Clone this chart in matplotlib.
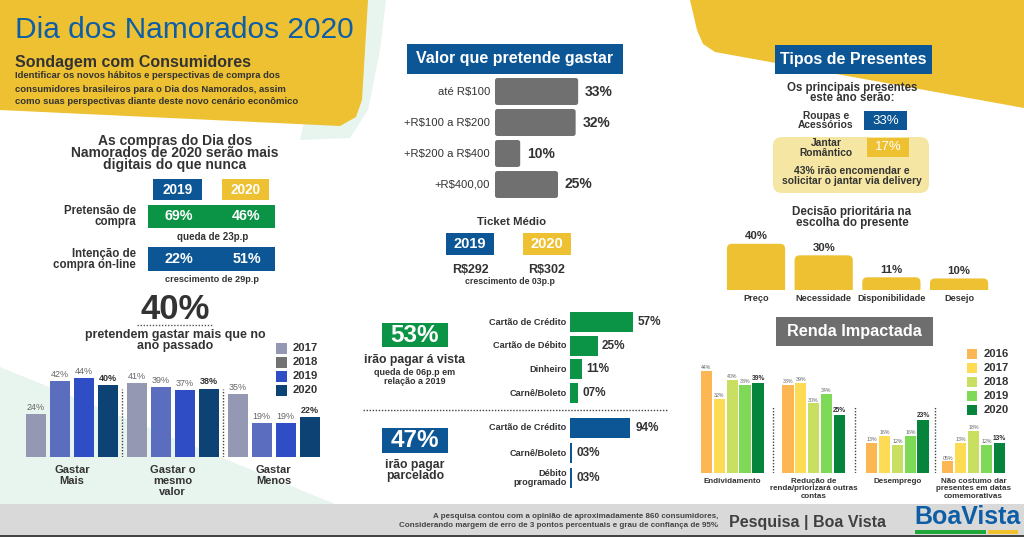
import matplotlib
matplotlib.use("Agg")
import matplotlib.pyplot as plt
from matplotlib.patches import Rectangle, Polygon, FancyBboxPatch

plt.rcParams["font.family"] = ["Liberation Sans", "DejaVu Sans"]
plt.rcParams["text.parse_math"] = False

# ---------------------------------------------------------------------
# DATA
# ---------------------------------------------------------------------
DIGITAL_YEARS = ["2019", "2020"]
PRETENSAO = [69, 46]
ONLINE = [22, 51]

GASTAR_CATEGORIES = ["Gastar\nMais", "Gastar o\nmesmo\nvalor", "Gastar\nMenos"]
GASTAR_YEARS = ["2017", "2018", "2019", "2020"]
GASTAR_2017 = [24, 41, 35]
GASTAR_2018 = [42, 39, 19]
GASTAR_2019 = [44, 37, 19]
GASTAR_2020 = [40, 38, 22]

VALOR_FAIXAS = ["até R$100", "+R$100 a R$200", "+R$200 a R$400", "+R$400,00"]
VALOR_PCT = [33, 32, 10, 25]

TICKET_YEARS = ["2019", "2020"]
TICKET_VALUES = ["R$292", "R$302"]

VISTA_TOTAL = 53
VISTA_MEIOS = ["Cartão de Crédito", "Cartão de Débito", "Dinheiro", "Carnê/Boleto"]
VISTA_PCT = [57, 25, 11, 7]

PARC_TOTAL = 47
PARC_MEIOS = ["Cartão de Crédito", "Carnê/Boleto", "Débito\nprogramado"]
PARC_PCT = [94, 3, 3]

PRESENTES = ["Roupas e\nAcessórios", "Jantar\nRomântico"]
PRESENTES_PCT = [33, 17]
DELIVERY_PCT = 43

DECISAO_LABELS = ["Preço", "Necessidade", "Disponibilidade", "Desejo"]
DECISAO_PCT = [40, 30, 11, 10]

RENDA_CATEGORIES = ["Endividamento", "Redução de\nrenda/priorizará outras\ncontas",
                    "Desemprego", "Não costumo dar\npresentes em datas\ncomemorativas"]
RENDA_YEARS = ["2016", "2017", "2018", "2019", "2020"]
RENDA_2016 = [44, 38, 13, 5]
RENDA_2017 = [32, 39, 16, 13]
RENDA_2018 = [40, 30, 12, 18]
RENDA_2019 = [38, 34, 16, 12]
RENDA_2020 = [39, 25, 23, 13]

# ---------------------------------------------------------------------
# STYLE
# ---------------------------------------------------------------------
W, H = 1024, 537
YELLOW = "#edc132"
BLUE = "#0c5695"
TITLE_BLUE = "#0d5ea6"
GREEN = "#0b9446"
DARK = "#333333"
MID = "#666666"
BAR_GRAY = "#707070"
MINT = "#e8f4ee"
PALE_YELLOW = "#f6e6a3"

GASTAR_COLORS = ["#9598b2", "#5b6dbf", "#2f4ec6", "#0c4274"]
GASTAR_LEGEND = ["#9598b2", "#727272", "#2f4ec6", "#0c4274"]
RENDA_COLORS = ["#fdb654", "#fedb55", "#c9df62", "#7ed957", "#07843c"]

fig = plt.figure(figsize=(W / 100, H / 100), dpi=100)
fig.patch.set_facecolor("white")
bg = fig.add_axes([0, 0, 1, 1])
bg.set_xlim(0, W)
bg.set_ylim(H, 0)
bg.set_axis_off()


def px_axes(x0, y0, x1, y1):
    ax = fig.add_axes([x0 / W, 1 - y1 / H, (x1 - x0) / W, (y1 - y0) / H])
    ax.set_axis_off()
    return ax


def txt(x, y, s, size, weight="bold", color=DARK, ha="center", va="center"):
    bg.text(x, y, s, fontsize=size, fontweight=weight, color=color, ha=ha, va=va)


def mtxt(x, yc, s, size, pitch, weight="bold", color=DARK, ha="center"):
    lines = s.split("\n")
    n = len(lines)
    for i, line in enumerate(lines):
        txt(x, yc + (i - (n - 1) / 2) * pitch, line, size, weight, color, ha)


def box(x0, y0, x1, y1, color, s=None, size=10, tcolor="white", weight="bold"):
    bg.add_patch(Rectangle((x0, y0), x1 - x0, y1 - y0, facecolor=color, edgecolor="none"))
    if s is not None:
        txt((x0 + x1) / 2, (y0 + y1) / 2, s, size, weight, tcolor)


def rbar(ax, x0, y0, w, h, radius_px, color):
    bb = ax.get_position()
    xl, yl = ax.get_xlim(), ax.get_ylim()
    ppx = bb.width * W / abs(xl[1] - xl[0])
    ppy = bb.height * H / abs(yl[1] - yl[0])
    ax.add_patch(FancyBboxPatch((x0, y0), w, h,
                                boxstyle=f"round,pad=0,rounding_size={radius_px / ppx}",
                                mutation_aspect=ppx / ppy, facecolor=color, edgecolor="none"))


def lab(ax, s, xy, dx, dy, size, ha="center", va="center", weight="bold", color=DARK, ls=1.2):
    ax.annotate(s, xy=xy, xytext=(dx, dy), textcoords="offset points", ha=ha, va=va,
                fontsize=size, fontweight=weight, color=color, linespacing=ls,
                annotation_clip=False)


# ---------------------------------------------------------------------
# BACKGROUND SHAPES
# ---------------------------------------------------------------------
bg.add_patch(Polygon([(0, 367), (0, 504), (335, 504)], closed=True, fc=MINT, ec="none"))
bg.add_patch(Polygon([(330, 0), (386, 0), (380, 50), (368, 110), (350, 138), (300, 140)],
                     closed=True, fc=MINT, ec="none"))
bg.add_patch(Polygon([(0, 0), (368, 0), (362, 100), (356, 117), (340, 126), (0, 110)],
                     closed=True, fc=YELLOW, ec="none"))
bg.add_patch(Polygon([(690, 0), (1024, 0), (1024, 108), (715, 52), (703, 44), (697, 30)],
                     closed=True, fc=YELLOW, ec="none"))

# ---------------------------------------------------------------------
# HEADER
# ---------------------------------------------------------------------
txt(15, 30, "Dia dos Namorados 2020", 21.5, weight="normal", color=TITLE_BLUE, ha="left")
txt(15, 62, "Sondagem com Consumidores", 11.5, ha="left")
mtxt(15, 89, "Identificar os novos hábitos e perspectivas de compra dos\n"
     "consumidores brasileiros para o Dia dos Namorados, assim\n"
     "como suas perspectivas diante deste novo cenário econômico", 6.8, 13, ha="left")

# ---------------------------------------------------------------------
# LEFT: DIGITAL
# ---------------------------------------------------------------------
mtxt(175, 153, "As compras do Dia dos\nNamorados de 2020 serão mais\ndigitais do que nunca", 10, 12.3)
box(153, 179, 202, 200, BLUE, DIGITAL_YEARS[0], 9.8)
box(222, 179, 269, 200, YELLOW, DIGITAL_YEARS[1], 9.8)

box(148, 205, 275, 228, GREEN)
txt(178.5, 216.5, f"{PRETENSAO[0]}%", 10.3, color="white")
txt(246.5, 216.5, f"{PRETENSAO[1]}%", 10.3, color="white")
mtxt(136, 217, "Pretensão de\ncompra", 8.3, 11, ha="right")
txt(213, 237.5, f"queda de {PRETENSAO[0] - PRETENSAO[1]}p.p", 7)

box(148, 247, 275, 271, BLUE)
txt(178.5, 259, f"{ONLINE[0]}%", 10.3, color="white")
txt(246.5, 259, f"{ONLINE[1]}%", 10.3, color="white")
mtxt(136, 259.5, "Intenção de\ncompra on-line", 8.3, 11, ha="right")
txt(212, 279, f"crescimento de {ONLINE[1] - ONLINE[0]}p.p", 6.6)

txt(175, 309.5, f"{GASTAR_2020[0]}%", 25)
bg.plot([137, 212], [324.5, 324.5], ls=(0, (1, 1.2)), color="#555555", lw=1)
mtxt(175, 340.5, "pretendem gastar mais que no\nano passado", 8.9, 11)

# gastar bars
ax = px_axes(22, 367, 323, 457)
ax.set_xlim((22 - 36) / 24, (323 - 36) / 24)
ax.set_ylim(0, 50)
GROUP_STEP = 4.2
series = [GASTAR_2017, GASTAR_2018, GASTAR_2019, GASTAR_2020]
for i, vals in enumerate(series):
    xs = [g * GROUP_STEP + i for g in range(len(vals))]
    ax.bar(xs, vals, width=0.83, color=GASTAR_COLORS[i])
    last = i == len(series) - 1
    for x, v in zip(xs, vals):
        lab(ax, f"{v:02d}%", (x, v), 0, 1.6, 6.5, va="bottom",
            weight="bold" if last else "normal", color=DARK if last else MID)
ax.vlines([(g + 1) * GROUP_STEP - 0.6 for g in range(len(GASTAR_CATEGORIES) - 1)], 0, 38,
          colors="#444444", linestyles=(0, (1, 1.2)), lw=1)
for g, cat in enumerate(GASTAR_CATEGORIES):
    lab(ax, cat, (g * GROUP_STEP + 1.5, 0), 0, -5.6, 8, va="top", ls=1.15)

for i, year in enumerate(GASTAR_YEARS):
    yc = 348 + i * 14
    bg.add_patch(Rectangle((276, yc - 5.5), 11, 11, fc=GASTAR_LEGEND[i], ec="none"))
    txt(293, yc, year, 8.1, ha="left")

# ---------------------------------------------------------------------
# CENTER: VALOR
# ---------------------------------------------------------------------
box(407, 44, 623, 74, BLUE, "Valor que pretende gastar", 11.5)
ax = px_axes(495, 76, 620, 200)
ax.set_xlim(0, 125 / 2.52)
ax.set_ylim(len(VALOR_PCT) - 0.5, -0.5)
for i, (name, v) in enumerate(zip(VALOR_FAIXAS, VALOR_PCT)):
    rbar(ax, 0, i - 0.435, v, 0.87, 2.5, BAR_GRAY)
    lab(ax, name, (0, i), -3.6, 0, 8.1, ha="right", weight="normal")
    lab(ax, f"{v}%", (v, i), 5, 0, 10, ha="left")

txt(512, 222, "Ticket Médio", 8.2)
box(446, 233, 494, 255, BLUE, TICKET_YEARS[0], 10.5)
box(523, 233, 571, 255, YELLOW, TICKET_YEARS[1], 10.5)
txt(470.5, 270, TICKET_VALUES[0], 9)
txt(546.5, 270, TICKET_VALUES[1], 9)
txt(510, 281, "crescimento de 03p.p", 6.3)

# ---------------------------------------------------------------------
# CENTER: PAGAMENTO
# ---------------------------------------------------------------------
box(382, 323, 448, 347, GREEN, f"{VISTA_TOTAL}%", 17.5)
txt(415, 360, "irão pagar á vista", 8.8)
mtxt(415, 377, "queda de 06p.p em\nrelação a 2019", 6.5, 9.3)

ax = px_axes(570, 310.2, 668, 404.9)
ax.set_xlim(0, 98 / 1.1)
ax.set_ylim(len(VISTA_PCT) - 0.5, -0.5)
ax.barh(range(len(VISTA_PCT)), VISTA_PCT, height=0.84, color=GREEN)
for i, (name, v) in enumerate(zip(VISTA_MEIOS, VISTA_PCT)):
    lab(ax, name, (0, i), -2.4, 0, 6.6, ha="right")
    lab(ax, f"{v:02d}%", (v, i), 3.2, 0, 8.5, ha="left")

bg.plot([363, 668], [410, 410], ls=(0, (1, 1.2)), color="#444444", lw=1)

box(382, 428, 448, 453, BLUE, f"{PARC_TOTAL}%", 17.5)
mtxt(415, 470.5, "irão pagar\nparcelado", 8.8, 10.8)

ax = px_axes(570, 415.5, 668, 490.5)
ax.set_xlim(0, 98 / 0.64)
ax.set_ylim(len(PARC_PCT) - 0.5, -0.5)
ax.barh(range(len(PARC_PCT)), PARC_PCT, height=0.8, color=BLUE)
for i, (name, v) in enumerate(zip(PARC_MEIOS, PARC_PCT)):
    lab(ax, name, (0, i), -2.4, 0, 6.6, ha="right", ls=1.0)
    lab(ax, f"{v:02d}%", (v, i), 3.6, 0, 8.5, ha="left")

# ---------------------------------------------------------------------
# RIGHT: PRESENTES
# ---------------------------------------------------------------------
box(775, 45, 932, 74, BLUE, "Tipos de Presentes", 11.5)
mtxt(852, 93, "Os principais presentes\neste ano serão:", 8.3, 10.6)
mtxt(826, 120.5, PRESENTES[0], 7.4, 8.6)
box(864, 111, 907, 130, BLUE, f"{PRESENTES_PCT[0]}%", 9.5, weight="normal")
bg.add_patch(FancyBboxPatch((773, 137), 156, 56, boxstyle="round,pad=0,rounding_size=9",
                            fc=PALE_YELLOW, ec="none"))
mtxt(826, 148, PRESENTES[1], 7.4, 9.5)
box(867, 138, 909, 157, YELLOW, f"{PRESENTES_PCT[1]}%", 9.5, weight="normal")
mtxt(852, 176, f"{DELIVERY_PCT}% irão encomendar e\nsolicitar o jantar via delivery", 7.4, 10.3)

mtxt(852, 217.5, "Decisão prioritária na\nescolha do presente", 8.4, 11.5)
ax = px_axes(718.8, 238, 996.3, 290)
ax.set_xlim(-0.55, 3.55)
ax.set_ylim(0, 45)
for i, (name, v) in enumerate(zip(DECISAO_LABELS, DECISAO_PCT)):
    rbar(ax, i - 0.43, -6, 0.86, v + 6, 5, YELLOW)
    lab(ax, f"{v}%", (i, v), 0, 1.8, 8.2, va="bottom")
    lab(ax, name, (i, 0), 0, -2.8, 6.6, va="top")

# ---------------------------------------------------------------------
# RIGHT: RENDA
# ---------------------------------------------------------------------
box(776, 317, 933, 346, "#6e6e6e", "Renda Impactada", 11.7)
RENDA_GROUP_X = [0, 6.3, 12.8, 18.7]
ax = px_axes(690, 357, 1010, 473)
ax.set_xlim((690 - 706.5) / 12.9, (1010 - 706.5) / 12.9)
ax.set_ylim(0, 50)
series = [RENDA_2016, RENDA_2017, RENDA_2018, RENDA_2019, RENDA_2020]
for i, vals in enumerate(series):
    xs = [gx + i for gx in RENDA_GROUP_X]
    ax.bar(xs, vals, width=0.89, color=RENDA_COLORS[i])
    last = i == len(series) - 1
    for x, v in zip(xs, vals):
        lab(ax, f"{v:02d}%", (x, v), 0, 0.6, 4.8 if last else 3.8, va="bottom",
            weight="bold" if last else "normal", color=DARK if last else MID)
seps = [(RENDA_GROUP_X[g] + 4 + RENDA_GROUP_X[g + 1]) / 2 for g in range(len(RENDA_GROUP_X) - 1)]
ax.vlines(seps, 0, 29, colors="#444444", linestyles=(0, (1, 1.2)), lw=1)
for g, cat in enumerate(RENDA_CATEGORIES):
    lab(ax, cat, (RENDA_GROUP_X[g] + 2, 0), 0, -3.4, 5.8, va="top", ls=1.08)

for i, year in enumerate(RENDA_YEARS):
    yc = 354 + i * 14
    bg.add_patch(Rectangle((967, yc - 5), 10, 10, fc=RENDA_COLORS[i], ec="none"))
    txt(984, yc, year, 8.1, ha="left")

# ---------------------------------------------------------------------
# FOOTER
# ---------------------------------------------------------------------
bg.add_patch(Rectangle((0, 504), W, 31, fc="#d9d9d9", ec="none"))
bg.add_patch(Rectangle((0, 535), W, 2, fc="#444444", ec="none"))
txt(718, 517, "A pesquisa contou com a opinião de aproximadamente 860 consumidores,", 5.75,
    color="#444444", ha="right")
txt(718, 525.5, "Considerando margem de erro de 3 pontos percentuais e grau de confiança de 95%", 5.75,
    color="#444444", ha="right")
txt(729, 522, "Pesquisa | Boa Vista", 11.5, color="#404040", ha="left")
txt(914, 517, "BoaVista", 18, color=TITLE_BLUE, ha="left")
bg.add_patch(Rectangle((915, 530), 71, 4, fc="#1fa83a", ec="none"))
bg.add_patch(Rectangle((988, 530), 30, 4, fc="#f2c12e", ec="none"))

fig.savefig("out.png", dpi=100, facecolor="white")
